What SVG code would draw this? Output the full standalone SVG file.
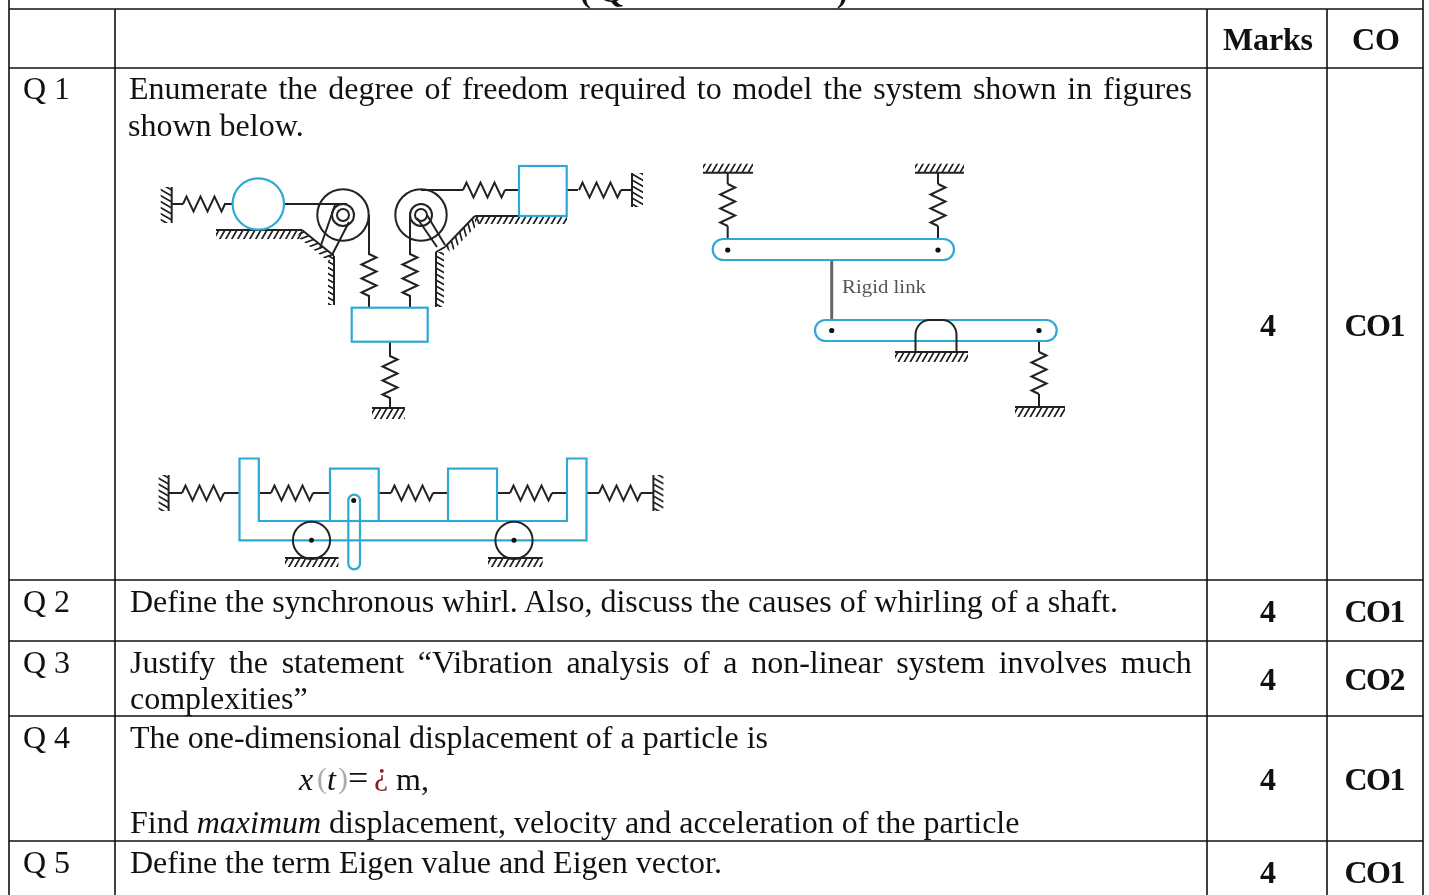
<svg xmlns="http://www.w3.org/2000/svg" xmlns:xlink="http://www.w3.org/1999/xlink" width="1429" height="895" viewBox="0 0 1429 895">
<style>
text{font-family:"Liberation Serif","Times New Roman",serif;font-size:32px;fill:#111}
.b{font-weight:700;text-anchor:middle}
.i{font-style:italic}
.grid{stroke:#111;stroke-width:1.6;fill:none}
.k{stroke:#222;stroke-width:2;fill:none}
.t{stroke:#2fa8d5;stroke-width:2.2;fill:#fff}
.d{fill:#111}
.h{fill:url(#h)}
</style>
<defs>
<pattern id="h" patternUnits="userSpaceOnUse" width="6" height="12" patternTransform="skewX(-30)"><rect x="2" width="2" height="12" fill="#222"/></pattern>
<path id="sp" class="k" d="M0 0L3.500-7.500 10.500 7.500 17.500-7.500 24.500 7.500 31.500-7.500 38.500 7.500 42 0"/>
<filter id="soft" x="-5%" y="-5%" width="110%" height="110%"><feGaussianBlur stdDeviation="0.45"/></filter>
</defs>
<rect width="1429" height="895" fill="#fff"/>
<g id="table" class="grid">
<path d="M9 9H1423M9 68H1423M9 580H1423M9 641H1423M9 716H1423M9 841H1423"/>
<path d="M9 0V895M115 9V895M1207 9V895M1327 9V895M1423 0V895"/>
</g>
<g id="figure-1" filter="url(#soft)">
<g id="connectors-1" class="k">
<path d="M172 204H183M224 204H233M284 204H347M369 215V255M369 295V308"/>
<path d="M421 190H463M505 190H519M567 190H578M621 190H632M410 213V255M410 295V308M390 342V357M390 397V408"/>
<path d="M335 205L320 248M349 222L332 255M417 218L437 247M427 215L445 245M445 247L436 252"/>
</g>
<use xlink:href="#sp" transform="translate(183,204)"/>
<use xlink:href="#sp" transform="translate(463,190)"/>
<use xlink:href="#sp" transform="translate(579,190)"/>
<use xlink:href="#sp" transform="translate(369,254) rotate(90)"/>
<use xlink:href="#sp" transform="translate(410,254) rotate(90)"/>
<use xlink:href="#sp" transform="translate(390,356) rotate(90)"/>
<g id="grounds-1">
<g transform="translate(171.700,223) rotate(-90)"><path class="k" d="M0 0H36"/><rect class="h" y="-11" width="36" height="11"/></g>
<g transform="translate(632,207) rotate(-90)"><path class="k" d="M0 0H34"/><rect class="h" width="34" height="11"/></g>
<g transform="translate(216,230)"><path class="k" d="M0 0H86"/><rect class="h" width="86" height="9"/></g>
<g transform="translate(302,230) rotate(38.800)"><path class="k" d="M0 0H41"/><rect class="h" width="41" height="8"/></g>
<g transform="translate(334,256) rotate(90)"><path class="k" d="M0 0H49"/><rect class="h" width="49" height="6"/></g>
<g transform="translate(475,216)"><path class="k" d="M0 0H92"/><rect class="h" width="92" height="8"/></g>
<g transform="translate(445,247) rotate(-46)"><path class="k" d="M0 0H43"/><rect class="h" width="43" height="8"/></g>
<g transform="translate(436,307) rotate(-90)"><path class="k" d="M0 0H55"/><rect class="h" width="55" height="8"/></g>
<g transform="translate(372,408)"><path class="k" d="M0 0H33"/><rect class="h" width="33" height="11"/></g>
</g>
<g id="pulley-left" class="k"><circle cx="343" cy="215" r="25.700"/><circle cx="343" cy="215" r="11"/><circle cx="343" cy="215" r="6"/></g>
<g id="pulley-right" class="k"><circle cx="421" cy="215" r="25.700"/><circle cx="421" cy="215" r="11"/><circle cx="421" cy="215" r="6"/></g>
<g id="roller"><circle class="t" cx="258.300" cy="204" r="25.700"/></g>
<g id="mass-right"><rect class="t" x="519" y="166" width="47.700" height="50"/></g>
<g id="mass-centre"><rect class="t" x="351.700" y="307.700" width="76" height="34"/></g>
</g>
<g id="figure-2" filter="url(#soft)">
<g transform="translate(703,172.700)"><path class="k" d="M0 0H50"/><rect class="h" y="-9" width="50" height="9"/></g>
<g transform="translate(915,172.700)"><path class="k" d="M0 0H49"/><rect class="h" y="-9" width="49" height="9"/></g>
<g transform="translate(895,352)"><path class="k" d="M0 0H73"/><rect class="h" width="73" height="10"/></g>
<g transform="translate(1015,407)"><path class="k" d="M0 0H50"/><rect class="h" width="50" height="10"/></g>
<path class="k" d="M727.700 173V184M727.700 226V238M938 173V184M938 226V238M1039 341V352M1039 394V407"/>
<use xlink:href="#sp" transform="translate(727.700,184) rotate(90)"/>
<use xlink:href="#sp" transform="translate(938,184) rotate(90)"/>
<use xlink:href="#sp" transform="translate(1039,352) rotate(90)"/>
<path d="M831.700 260V319" fill="none" stroke="#666" stroke-width="3"/>
<g id="beam-top"><rect class="t" x="712.700" y="239" width="241.300" height="21" rx="10.500"/><circle class="d" cx="727.700" cy="250" r="2.600"/><circle class="d" cx="938" cy="250" r="2.600"/></g>
<g id="beam-bottom"><rect class="t" x="815" y="320" width="241.700" height="21" rx="10.500"/><circle class="d" cx="831.700" cy="330.500" r="2.600"/><circle class="d" cx="1039" cy="330.500" r="2.600"/></g>
<path class="k" d="M915.500 352V335A14 15 0 0 1 929.500 320H942.500A14 15 0 0 1 956.500 335V352"/>
<text x="842" y="293" textLength="84" lengthAdjust="spacingAndGlyphs" style="font-size:18px;fill:#555">Rigid link</text>
</g>
<g id="figure-3" filter="url(#soft)">
<g transform="translate(168.600,511) rotate(-90)"><path class="k" d="M0 0H36"/><rect class="h" y="-10" width="36" height="10"/></g>
<g transform="translate(653.400,511) rotate(-90)"><path class="k" d="M0 0H36"/><rect class="h" width="36" height="10"/></g>
<g transform="translate(285,558)"><path class="k" d="M0 0H53.500"/><rect class="h" width="53.500" height="9"/></g>
<g transform="translate(488,558)"><path class="k" d="M0 0H54.600"/><rect class="h" width="54.600" height="9"/></g>
<path class="k" d="M168.600 493H182M224 493H239.500M258.800 493H271M313 493H330M378.700 493H391M433 493H448M497 493H510M552 493H567M586.500 493H599M641 493H653.400"/>
<use xlink:href="#sp" transform="translate(182,493)"/>
<use xlink:href="#sp" transform="translate(271,493)"/>
<use xlink:href="#sp" transform="translate(391,493)"/>
<use xlink:href="#sp" transform="translate(510,493)"/>
<use xlink:href="#sp" transform="translate(599,493)"/>
<path id="frame" class="t" style="fill:none" d="M239.500 458.500H258.800V521H567V458.500H586.500V540.300H239.500Z"/>
<g id="mass-a"><rect class="t" style="fill:none" x="330" y="468.600" width="48.700" height="52.400"/></g>
<g id="mass-b"><rect class="t" style="fill:none" x="448" y="468.600" width="49" height="52.400"/></g>
<g id="roller-left"><circle class="k" cx="311.500" cy="540.300" r="18.600"/><circle class="d" cx="311.500" cy="540.300" r="2.500"/></g>
<g id="roller-right"><circle class="k" cx="514" cy="540.300" r="18.600"/><circle class="d" cx="514" cy="540.300" r="2.500"/></g>
<g id="slot"><rect class="t" style="fill:none" x="348.300" y="494.700" width="11.700" height="74.600" rx="5.800"/><circle class="d" cx="353.700" cy="500.400" r="2.500"/></g>
</g>
<g id="text">
<text class="b" x="602" y="2">( Q</text><text class="b" x="842" y="2">)</text>
<text class="b" x="1268" y="50" textLength="90">Marks</text>
<text class="b" x="1376" y="50">CO</text>
<text x="23" y="99">Q 1</text>
<text y="99" x="129" style="word-spacing:2.820px">Enumerate the degree of freedom required to model the system shown in figures</text>
<text y="136" x="128">shown below.</text>
<text x="23" y="612">Q 2</text>
<text x="130" y="612" textLength="988">Define the synchronous whirl. Also, discuss the causes of whirling of a shaft.</text>
<text x="23" y="673">Q 3</text>
<text y="673" x="130" style="word-spacing:5.600px">Justify the statement “Vibration analysis of a non-linear system involves much</text>
<text y="709" x="130">complexities”</text>
<text x="23" y="748">Q 4</text>
<text y="748" x="130" textLength="638">The one-dimensional displacement of a particle is</text>
<text class="i" x="299" y="790">x</text><text x="317" y="788" style="fill:#aaa;font-size:30px">(</text><text class="i" x="327" y="790">t</text><text x="338" y="788" style="fill:#aaa;font-size:30px">)</text><text x="348" y="790" style="font-size:36px">=</text><text x="374" y="784" style="fill:#8b1a1a">¿</text><text x="396" y="790">m,</text>
<text y="833" x="130">Find <tspan class="i">maximum</tspan> displacement, velocity and acceleration of the particle</text>
<text x="23" y="873">Q 5</text>
<text x="130" y="873" textLength="592">Define the term Eigen value and Eigen vector.</text>
<text class="b" x="1268" y="336">4</text><text class="b" x="1375" y="336" textLength="61">CO1</text>
<text class="b" x="1268" y="622">4</text><text class="b" x="1375" y="622" textLength="61">CO1</text>
<text class="b" x="1268" y="690">4</text><text class="b" x="1375" y="690" textLength="61">CO2</text>
<text class="b" x="1268" y="790">4</text><text class="b" x="1375" y="790" textLength="61">CO1</text>
<text class="b" x="1268" y="883">4</text><text class="b" x="1375" y="883" textLength="61">CO1</text>
</g>
</svg>
